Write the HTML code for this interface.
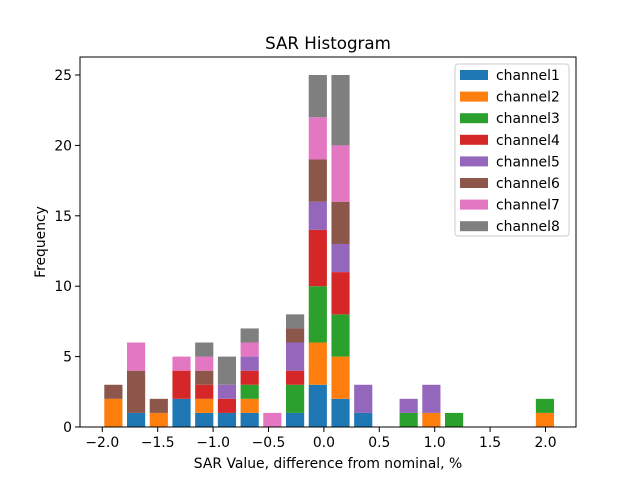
<!DOCTYPE html>
<html><head><meta charset="utf-8"><style>
body{margin:0;background:#fff;font-family:"Liberation Sans","DejaVu Sans",sans-serif}
text{font-family:"DejaVu Sans","Liberation Sans",sans-serif}
</style></head><body>
<svg id="chart" width="640" height="480" xmlns="http://www.w3.org/2000/svg">
<rect width="640" height="480" fill="#fff"/>
<text x="328" y="49" font-size="16.7" text-anchor="middle">SAR Histogram</text>
<g id="bars"></g>
<g id="axes"></g>
<g id="legend"></g>
<text x="328" y="468" font-size="13.9" text-anchor="middle">SAR Value, difference from nominal, %</text>
<text transform="translate(45,242) rotate(-90)" font-size="13.9" text-anchor="middle">Frequency</text>
</svg>
<script>
const binCenters=[-1.9,-1.695,-1.49,-1.285,-1.08,-0.875,-0.67,-0.465,-0.26,-0.055,0.15,0.355,0.56,0.765,0.97,1.175,1.38,1.585,1.79,1.995];
const channelNames=["channel1","channel2","channel3","channel4","channel5","channel6","channel7","channel8"];
const colors=["#1f77b4","#ff7f0e","#2ca02c","#d62728","#9467bd","#8c564b","#e377c2","#7f7f7f"];
const channel1=[0,1,0,2,1,1,1,0,1,3,2,1,0,0,0,0,0,0,0,0];
const channel2=[2,0,1,0,1,0,1,0,0,3,3,0,0,0,1,0,0,0,0,1];
const channel3=[0,0,0,0,0,0,1,0,2,4,3,0,0,1,0,1,0,0,0,1];
const channel4=[0,0,0,2,1,1,1,0,1,4,3,0,0,0,0,0,0,0,0,0];
const channel5=[0,0,0,0,0,1,1,0,2,2,2,2,0,1,2,0,0,0,0,0];
const channel6=[1,3,1,0,1,0,0,0,1,3,3,0,0,0,0,0,0,0,0,0];
const channel7=[0,2,0,1,1,0,1,1,0,3,4,0,0,0,0,0,0,0,0,0];
const channel8=[0,0,0,0,1,2,1,0,1,3,5,0,0,0,0,0,0,0,0,0];
const xTicks=[-2.0,-1.5,-1.0,-0.5,0.0,0.5,1.0,1.5,2.0];
const yTicks=[0,5,10,15,20,25];
const series=[channel1,channel2,channel3,channel4,channel5,channel6,channel7,channel8];
const NS="http://www.w3.org/2000/svg";
const L=80,R=576,T=57,B=427;
const xs=v=>102.3+(v+2)*110.8;
const ys=v=>427-v*14.08;
const barW=0.164*110.8;
function mk(tag,attrs,parent){const e=document.createElementNS(NS,tag);for(const k in attrs)e.setAttribute(k,attrs[k]);parent.appendChild(e);return e;}
const gb=document.getElementById('bars');
const base=binCenters.map(()=>0);
series.forEach((s,ci)=>{
  s.forEach((v,i)=>{
    if(v>0){
      const r=mk('rect',{x:xs(binCenters[i])-barW/2,y:ys(base[i]+v),width:barW,height:ys(base[i])-ys(base[i]+v),fill:colors[ci]},gb);
      
      
    }
    base[i]+=v;
  });
});
const ga=document.getElementById('axes');
const frame=mk('rect',{x:L,y:T,width:R-L,height:B-T,fill:'none',stroke:'#000','stroke-width':1},ga);


xTicks.forEach(t=>{
  const x=xs(t);
  mk('line',{x1:x,x2:x,y1:B,y2:B+5,stroke:'#000'},ga);
  const tx=mk('text',{x:x,y:B+20,'font-size':13.9,'text-anchor':'middle'},ga);
  tx.textContent=(t<0?'\u2212':'')+Math.abs(t).toFixed(1);
  
  
});
yTicks.forEach(t=>{
  const y=ys(t);
  mk('line',{x1:L-5,x2:L,y1:y,y2:y,stroke:'#000'},ga);
  const tx=mk('text',{x:L-8,y:y+5,'font-size':13.9,'text-anchor':'end'},ga);
  tx.textContent=t;
  
  
});
const gl=document.getElementById('legend');
const lb=mk('rect',{x:455,y:64,width:114,height:172,rx:3,fill:'#fff','fill-opacity':0.8,stroke:'#ccc'},gl);


channelNames.forEach((n,i)=>{
  const y=70+i*21.6;
  const p=mk('rect',{x:460,y:y,width:28,height:10,fill:colors[i]},gl);
  
  
  const t=mk('text',{x:496,y:y+10,'font-size':13.9},gl);
  t.textContent=n;
  
  
});
</script>
</body></html>
